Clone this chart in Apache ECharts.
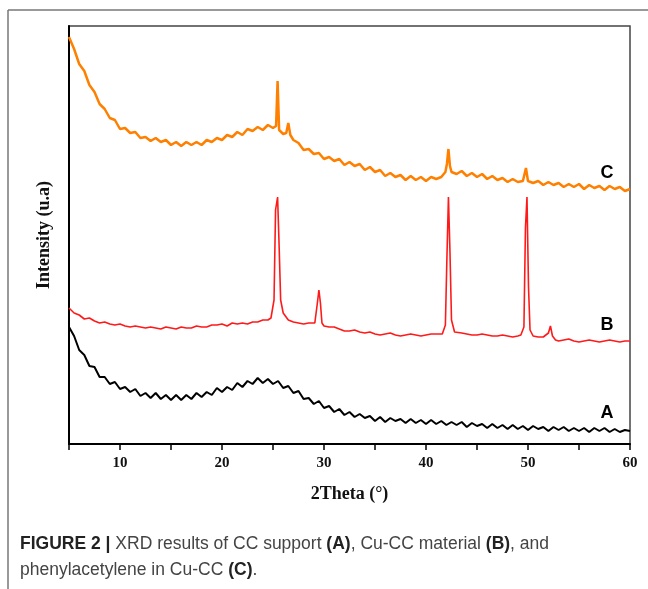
<!DOCTYPE html>
<html>
<head>
<meta charset="utf-8">
<script src="https://cdn.jsdelivr.net/npm/echarts@6/dist/echarts.min.js"></script>
<style>
  html, body { margin: 0; padding: 0; background: #fff; }
  #chart { width: 648px; height: 589px; }
</style>
</head>
<body>
<div id="chart"></div>
<script>
// 2Theta (deg) vs intensity (arbitrary units)
const curveC = [
  [5,407],[5.5,395],[6,380],[6.5,373],[7,359],[7.5,352],[8,340],[8.5,335],[9,326],[9.5,324],
  [10,315],[10.5,316],[11,311],[11.5,312],[12,306],[12.5,307],[13,303],[13.5,306],[14,302],[14.5,304],
  [15,299],[15.5,302],[16,298],[16.5,302],[17,299],[17.5,302],[18,299],[18.5,304],[19,302],[19.5,306],
  [20,304],[20.5,309],[21,307],[21.5,312],[22,309],[22.5,315],[23,313],[23.5,317],[24,314],[24.5,319],
  [25,316],[25.3,318],[25.45,363],[25.6,314],[26,310],[26.3,311],[26.5,321],[26.7,309],[27,304],[27.5,301],
  [28,294],[28.5,295],[29,290],[29.5,291],[30,285],[30.5,287],[31,283],[31.5,285],[32,279],[32.5,282],
  [33,278],[33.5,280],[34,274],[34.5,277],[35,272],[35.5,274],[36,268],[36.5,271],[37,267],[37.5,269],
  [38,264],[38.5,268],[39,264],[39.5,267],[40,263],[40.5,267],[41,265],[41.5,267],[41.9,272],[42.05,280],
  [42.2,295],[42.35,278],[42.5,272],[43,270],[43.5,273],[44,268],[44.5,271],[45,267],[45.5,270],[46,265],
  [46.5,268],[47,264],[47.5,266],[48,262],[48.5,265],[49,262],[49.5,263],[49.8,276],[50,263],[50.5,261],
  [51,263],[51.5,259],[52,262],[52.5,259],[53,261],[53.5,257],[54,260],[54.5,257],[55,260],[55.5,255],
  [56,259],[56.5,256],[57,258],[57.5,254],[58,258],[58.5,255],[59,257],[59.5,253],[60,255]
];
const curveB = [
  [5,136],[5.5,131],[6,129],[6.5,125],[7,126],[7.5,123],[8,121],[8.5,122],[9,120],[9.5,119],
  [10,120],[10.5,118],[11,117],[11.5,118],[12,117],[12.5,116],[13,117],[13.5,116],[14,115],[14.5,117],
  [15,116],[15.5,115],[16,117],[16.5,116],[17,116],[17.5,118],[18,117],[18.5,117],[19,119],[19.5,119],
  [20,120],[20.5,118],[21,121],[21.5,120],[22,121],[22.5,120],[23,122],[23.5,122],[24,124],[24.5,124],
  [24.8,126],[25.1,144],[25.25,234],[25.45,247],[25.6,198],[25.75,144],[26,131],[26.5,124],[27,122],[27.5,121],
  [28,120],[28.5,121],[29.1,121],[29.35,141],[29.5,154],[29.65,141],[29.8,121],[30,118],[30.5,117],[31,117],
  [31.5,115],[32,113],[32.5,113],[33,114],[33.5,112],[34,111],[34.5,112],[35,110],[35.5,109],[36,110],
  [36.5,111],[37,109],[37.5,108],[38,109],[38.5,110],[39,109],[39.5,108],[40,109],[40.5,110],[41,110],
  [41.6,110],[41.9,119],[42.05,186],[42.2,247],[42.35,192],[42.5,124],[42.8,112],[43.5,111],[44,110],[44.5,109],
  [45,109],[45.5,110],[46,109],[46.5,108],[47,108],[47.5,109],[48,108],[48.5,107],[49,108],[49.3,109],
  [49.6,117],[49.75,216],[49.9,247],[50.05,157],[50.2,114],[50.5,108],[51,107],[51.5,107],[52,111],[52.2,118],
  [52.4,108],[52.7,104],[53,103],[53.5,104],[54,105],[54.5,103],[55,102],[55.5,103],[56,104],[56.5,103],
  [57,102],[57.5,103],[58,104],[58.5,103],[59,102],[59.5,103],[60,103]
];
const curveA = [
  [5,117],[5.5,108],[6,94],[6.5,89],[7,78],[7.5,77],[8,67],[8.5,67],[9,60],[9.5,62],
  [10,55],[10.5,57],[11,52],[11.5,55],[12,48],[12.5,51],[13,46],[13.5,51],[14,45],[14.5,49],
  [15,44],[15.5,49],[16,44],[16.5,49],[17,45],[17.5,51],[18,47],[18.5,52],[19,49],[19.5,56],
  [20,52],[20.5,57],[21,54],[21.5,61],[22,57],[22.5,63],[23,60],[23.5,66],[24,61],[24.5,65],
  [25,60],[25.5,63],[26,56],[26.5,58],[27,51],[27.5,53],[28,45],[28.5,46],[29,40],[29.5,43],
  [30,36],[30.5,38],[31,32],[31.5,35],[32,29],[32.5,32],[33,27],[33.5,30],[34,26],[34.5,28],
  [35,23],[35.5,27],[36,22],[36.5,26],[37,23],[37.5,25],[38,21],[38.5,25],[39,21],[39.5,24],
  [40,20],[40.5,24],[41,20],[41.5,23],[42,19],[42.5,22],[43,19],[43.5,22],[44,17],[44.5,21],
  [45,18],[45.5,20],[46,16],[46.5,20],[47,16],[47.5,19],[48,15],[48.5,19],[49,15],[49.5,18],
  [50,14],[50.5,18],[51,15],[51.5,17],[52,13],[52.5,17],[53,14],[53.5,17],[54,13],[54.5,16],
  [55,13],[55.5,16],[56,12],[56.5,16],[57,13],[57.5,16],[58,12],[58.5,15],[59,12],[59.5,14],[60,13]
];
const curveNames = ['A', 'B', 'C'];
const labelAt = [[57.75, 31], [57.75, 119], [57.75, 271]];

const chart = echarts.init(document.getElementById('chart'));

const serif = '"Liberation Serif", "DejaVu Serif", serif';
const sans = '"Liberation Sans", Arial, sans-serif';

function curve(name, data, color, width, idx) {
  return {
    name: name,
    type: 'line',
    data: data,
    symbol: 'none',
    animation: false,
    lineStyle: {color: color, width: width},
    markPoint: {
      symbol: 'circle',
      symbolSize: 0,
      animation: false,
      data: [{
        coord: labelAt[idx],
        label: {
          show: true,
          formatter: name,
          color: '#000',
          fontFamily: sans,
          fontWeight: 'bold',
          fontSize: 18
        }
      }]
    }
  };
}

chart.setOption({
  backgroundColor: '#fff',
  grid: {
    left: 69, right: 18, top: 26, bottom: 145,
    show: true,
    borderColor: '#444',
    borderWidth: 1.5
  },
  xAxis: {
    type: 'value',
    min: 5,
    max: 60,
    interval: 5,
    name: '2Theta (°)',
    nameLocation: 'middle',
    nameGap: 41,
    nameTextStyle: {fontFamily: serif, fontWeight: 'bold', fontSize: 18, color: '#111'},
    axisLine: {onZero: false, lineStyle: {color: '#000', width: 2}},
    axisTick: {show: true, inside: false, length: 6, lineStyle: {color: '#000', width: 1.5}},
    splitLine: {show: false},
    axisLabel: {
      margin: 12,
      fontFamily: serif,
      fontWeight: 'bold',
      fontSize: 15,
      color: '#111',
      formatter: function (v) { return v % 10 === 0 ? String(v) : ''; }
    }
  },
  yAxis: {
    type: 'value',
    min: 0,
    max: 418,
    name: 'Intensity (u.a)',
    nameLocation: 'middle',
    nameGap: 16,
    nameRotate: 90,
    nameTextStyle: {fontFamily: serif, fontWeight: 'bold', fontSize: 18, color: '#111'},
    axisLine: {show: true, lineStyle: {color: '#000', width: 2}},
    axisTick: {show: false},
    axisLabel: {show: false},
    splitLine: {show: false}
  },
  series: [
    curve(curveNames[0], curveA, '#000000', 2, 0),
    curve(curveNames[1], curveB, '#ff1a1a', 1.6, 1),
    curve(curveNames[2], curveC, '#ff8000', 2.5, 2)
  ],
  graphic: [
    {type: 'line', shape: {x1: 8, y1: 10, x2: 648, y2: 10}, style: {stroke: '#777', lineWidth: 1.5}},
    {type: 'line', shape: {x1: 8, y1: 10, x2: 8, y2: 589}, style: {stroke: '#777', lineWidth: 1.5}},
    {
      type: 'text',
      left: 20,
      top: 531,
      style: {
        text: '{b|FIGURE 2 |} XRD results of CC support {b|(A)}, Cu-CC material {b|(B)}, and\nphenylacetylene in Cu-CC {b|(C)}.',
        font: '17.5px ' + sans,
        fill: '#444',
        lineHeight: 26,
        rich: {
          b: {fontFamily: sans, fontWeight: 'bold', fontSize: 17.5, fill: '#222'}
        }
      }
    }
  ]
});
</script>
</body>
</html>
